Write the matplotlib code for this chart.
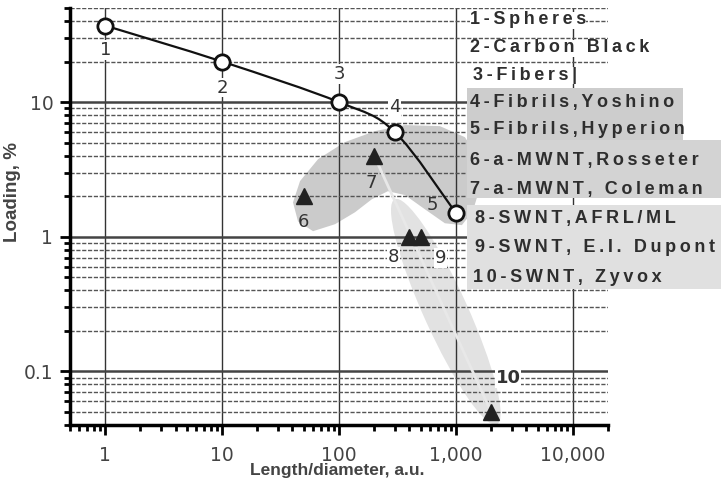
import numpy as np
import matplotlib
matplotlib.use("Agg")
import matplotlib.pyplot as plt
from matplotlib.path import Path
from matplotlib.patches import PathPatch, Polygon, Ellipse, Rectangle
from matplotlib.transforms import IdentityTransform
from matplotlib.ticker import FixedLocator, FixedFormatter, LogLocator, NullFormatter

# data
fill_x = [1, 10, 100, 300, 1000]          # spheres .. fibrils Hyperion
fill_y = [37, 20, 10, 6, 1.5]
fill_lab = ["1", "2", "3", "4", "5"]
nt_x = [50, 200, 400, 500, 2000]          # nanotubes
nt_y = [2, 4, 1, 1, 0.05]
nt_lab = ["6", "7", "8", "9", "10"]
legend_items = ["1-Spheres", "2-Carbon Black", "3-Fibers|", "4-Fibrils,Yoshino",
                "5-Fibrils,Hyperion", "6-a-MWNT,Rosseter", "7-a-MWNT, Coleman",
                "8-SWNT,AFRL/ML", "9-SWNT, E.I. Dupont", "10-SWNT, Zyvox"]
xticks = [1, 10, 100, 1000, 10000]
xtick_lab = ["1", "10", "100", "1,000", "10,000"]
yticks = [0.1, 1, 10]
ytick_lab = ["0.1", "1", "10"]
# grey highlighted region round the MWNT / fibril points (data coords)
blob_x = [40.4, 46.4, 66.2, 112, 203, 367, 730, 1194, 1542, 1637, 1397, 1125,
          805, 543, 367, 262, 191, 137, 92.5, 60, 44.6]
blob_y = [1.80, 2.59, 3.77, 5.04, 6.09, 6.75, 6.63, 5.49, 3.90, 2.46, 1.55, 1.22,
          1.26, 1.60, 2.04, 2.18, 1.90, 1.52, 1.24, 1.10, 1.30]
band_ends = [(300, 1.9), (2240, 0.0404)]   # light band from 7 down to 10

W, H = 721, 479
fig = plt.figure(figsize=(W / 100, H / 100), dpi=100)
ax = fig.add_axes([70 / W, 1 - 425 / H, 538 / W, 417 / H])
ax.set_xscale("log")
ax.set_yscale("log")
ax.set_xlim(0.5, 20000)
ax.set_ylim(0.04, 50)

# grid
ax.set_axisbelow(True)
ax.xaxis.set_major_locator(FixedLocator(xticks))
ax.xaxis.set_major_formatter(FixedFormatter(xtick_lab))
ax.xaxis.set_minor_locator(LogLocator(base=10, subs=np.arange(2, 10), numticks=20))
ax.xaxis.set_minor_formatter(NullFormatter())
ax.yaxis.set_major_locator(FixedLocator(yticks))
ax.yaxis.set_major_formatter(FixedFormatter(ytick_lab))
ax.yaxis.set_minor_locator(LogLocator(base=10, subs=np.arange(2, 10), numticks=20))
ax.yaxis.set_minor_formatter(NullFormatter())
ax.grid(which="major", axis="x", color="#333333", lw=1.0)
ax.grid(which="major", axis="y", color="#444444", lw=1.8)
ax.grid(which="minor", axis="y", color="#555555", lw=1.0, ls=(0, (3, 1.2)))

for s in ["top", "right"]:
    ax.spines[s].set_visible(False)
for s in ["left", "bottom"]:
    ax.spines[s].set_linewidth(2.5)
    ax.spines[s].set_color("black")
ax.tick_params(which="major", length=7, width=2, color="black",
               labelsize=13.5, labelcolor="#444444", pad=5)
ax.tick_params(which="minor", length=4, width=2, color="black")
ax.tick_params(axis="x", pad=8)

# shaded regions
ax.add_patch(Polygon(np.column_stack([blob_x, blob_y]), closed=True,
                     facecolor="#cbcbcb", edgecolor="none", zorder=0.2))
fig.canvas.draw()
p0 = ax.transData.transform(band_ends[0])
p1 = ax.transData.transform(band_ends[1])
ctr = (p0 + p1) / 2
d = p1 - p0
ax.add_patch(Ellipse(ctr, np.hypot(*d), 44, angle=np.degrees(np.arctan2(d[1], d[0])),
                     transform=IdentityTransform(), facecolor="#e2e2e2",
                     edgecolor="none", zorder=0.1))

# light line from 7 to 10
ax.plot([nt_x[1], nt_x[4]], [nt_y[1], nt_y[4]], color="#e8e8e8", lw=2, zorder=1.5)

# smooth curve through the filler points (Catmull-Rom in log space)
lp = np.log10(np.column_stack([fill_x, fill_y]))
ext = np.vstack([lp[0], lp, lp[-1]])
verts = [lp[0]]
codes = [Path.MOVETO]
for i in range(len(lp) - 1):
    a, b, c, e = ext[i], ext[i + 1], ext[i + 2], ext[i + 3]
    verts += [b + (c - a) / 6, c - (e - b) / 6, c]
    codes += [Path.CURVE4] * 3
ax.add_patch(PathPatch(Path(10 ** np.array(verts), codes), fill=False,
                       edgecolor="#111111", lw=1.6, zorder=2))

ax.plot(fill_x, fill_y, "o", ms=11, mfc="white", mec="#111111", mew=2, zorder=3)
ax.plot(nt_x, nt_y, "^", ms=12, color="#222222", zorder=3)

# point labels
offs_f = [(0, -24), (0, -26), (0, 28), (0, 25), (-24, 8)]
offs_n = [(0, -26), (-3, -27), (-16, -20), (20, -21), (17, 34)]
bg_f = [True, True, True, True, False]
bg_n = [False, False, True, True, True]
for xs, ys, labs, offs, bgs in [(fill_x, fill_y, fill_lab, offs_f, bg_f),
                                 (nt_x, nt_y, nt_lab, offs_n, bg_n)]:
    for xv, yv, lab, off, bg in zip(xs, ys, labs, offs, bgs):
        ax.annotate(lab, (xv, yv), xytext=off, textcoords="offset pixels",
                    ha="center", va="center", fontsize=13, color="#333333",
                    fontweight="bold" if lab == "10" else "normal",
                    bbox=dict(boxstyle="square,pad=0.05", fc="white", ec="none") if bg else None,
                    zorder=4)

# legend panel
fig.patches.append(Rectangle((467 / W, 1 - 140 / H), 216 / W, 52 / H, transform=fig.transFigure,
                             facecolor="#cdcdcd", edgecolor="none", zorder=1))
fig.patches.append(Rectangle((467 / W, 1 - 198 / H), 254 / W, 58 / H, transform=fig.transFigure,
                             facecolor="#d3d3d3", edgecolor="none", zorder=1))
fig.patches.append(Rectangle((467 / W, 1 - 289 / H), 254 / W, 84 / H, transform=fig.transFigure,
                             facecolor="#e0e0e0", edgecolor="none", zorder=1))
leg_y = [20, 48, 75, 102, 130, 160, 190, 218, 248, 277]
leg_x = [470, 470, 473, 470, 470, 470, 470, 475, 475, 473]
for i, (txt, yy, xx) in enumerate(zip(legend_items, leg_y, leg_x)):
    spaced = "\u2009".join(txt)
    kw = {}
    if i < 3:
        kw["bbox"] = dict(boxstyle="square,pad=0.0", fc="white", ec="none")
    fig.text(xx / W, 1 - yy / H, spaced, ha="left", va="center", fontsize=13,
             fontweight="bold", color="#2e2e2e",
             family=["Liberation Sans", "DejaVu Sans"], zorder=2, **kw)

fig.text(13 / W, 1 - 192 / H, "Loading, %", rotation=90, ha="center", va="center",
         fontsize=13.5, fontweight="bold", color="#444444",
         family=["Liberation Sans", "DejaVu Sans"])
fig.text(337 / W, 1 - 478 / H, "Length/diameter, a.u.", ha="center", va="bottom",
         fontsize=12.5, fontweight="bold", color="#444444",
         family=["Liberation Sans", "DejaVu Sans"])

fig.savefig("out.png", dpi=100)
